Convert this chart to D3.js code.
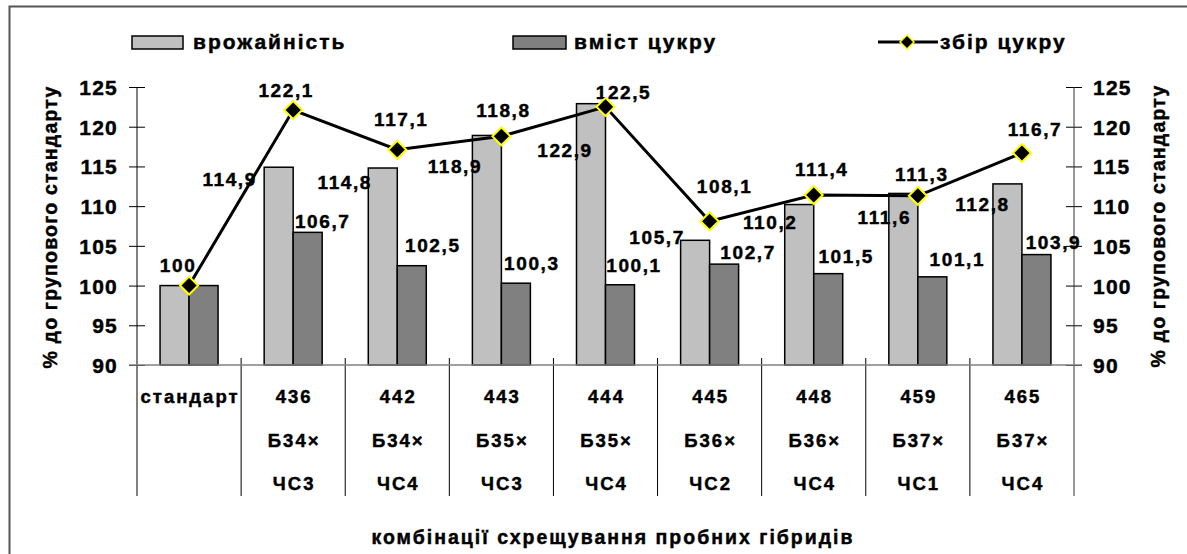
<!DOCTYPE html>
<html>
<head>
<meta charset="utf-8">
<script src="https://cdn.jsdelivr.net/npm/d3@7"></script>
<style>
  body { margin: 0; background: #fff; }
  svg { display: block; font-family: "Liberation Sans", Arial, sans-serif; font-weight: bold; }
  svg text { stroke: #000; stroke-width: 0.45px; }
</style>
</head>
<body>
<div id="chart"></div>
<script>
// data
var categories = ["стандарт", "436", "442", "443", "444", "445", "448", "459", "465"];
var crossFemale = ["", "Б34×", "Б34×", "Б35×", "Б35×", "Б36×", "Б36×", "Б37×", "Б37×"];
var crossMale = ["", "ЧС3", "ЧС4", "ЧС3", "ЧС4", "ЧС2", "ЧС4", "ЧС1", "ЧС4"];
var yieldPct = [100, 114.9, 114.8, 118.9, 122.9, 105.7, 110.2, 111.6, 112.8];
var sugarContent = [100, 106.7, 102.5, 100.3, 100.1, 102.7, 101.5, 101.1, 103.9];
var sugarYield = [100, 122.1, 117.1, 118.8, 122.5, 108.1, 111.4, 111.3, 116.7];
var yTicks = [90, 95, 100, 105, 110, 115, 120, 125];
var seriesNames = ["врожайність", "вміст цукру", "збір цукру"];

// label nudges (px), the labels sit where they were dragged in the original
var yieldNudge = [null, [-49, 12], [-38, 14], [-32, 31], [-26, 46], [-38, -3], [-29, 18], [-19, 24], [-25, 20]];
var sugarNudge = [null, [15, -11], [21, -21], [16, -20], [14, -20], [24, -12], [18, -17], [25, -18], [17, -12]];
var lineNudge = [[-11, -20], [-7, -20], [4, -31], [2, -26], [18, -15], [15, -35], [8, -26], [4, -22], [13, -24]];

var width = 1187, height = 554;
var margin = {top: 87, left: 137, right: 113, bottom: 189};
var plotRight = width - margin.right,
    plotBottom = height - margin.bottom;

var lightFill = "#c0c0c0", darkFill = "#808080";

var svg = d3.select("#chart").append("svg")
  .attr("width", width)
  .attr("height", height);

// outer frame (top and left edges only show)
svg.append("path")
  .attr("d", "M9.5," + height + "V6.5H" + width)
  .attr("fill", "none")
  .attr("stroke", "#555")
  .attr("stroke-width", 2);

var x0 = d3.scaleBand()
  .domain(categories)
  .range([margin.left, plotRight])
  .padding(0);

var x1 = d3.scaleBand()
  .domain(["yield", "sugar"])
  .range([-29, 29]);

var y = d3.scaleLinear()
  .domain([90, 125])
  .range([plotBottom, margin.top]);

function cx(i) { return x0(categories[i]) + x0.bandwidth() / 2; }
function fmt(v) { return String(v).replace(".", ","); }

// axes
var leftAxis = svg.append("g")
  .attr("transform", "translate(" + margin.left + ",0)")
  .call(d3.axisLeft(y).tickValues(yTicks).tickSize(8).tickPadding(12));
var rightAxis = svg.append("g")
  .attr("transform", "translate(" + plotRight + ",0)")
  .call(d3.axisRight(y).tickValues(yTicks).tickSize(8).tickPadding(12));

[leftAxis, rightAxis].forEach(function(ax) {
  ax.select(".domain").remove();
  ax.selectAll(".tick line")
    .attr("x1", -8).attr("x2", 8)
    .attr("stroke", "#000");
  ax.selectAll(".tick text")
    .attr("font-size", 21)
    .attr("font-family", "Liberation Sans, Arial, sans-serif")
    .attr("font-weight", "bold")
    .attr("letter-spacing", 1.2)
    .attr("fill", "#000")
    .attr("dy", "0.36em");
});
leftAxis.selectAll(".tick text").attr("x", -19);
rightAxis.selectAll(".tick text").attr("x", 19);

// category separators including both axes lines
var sepX = categories.map(function(c) { return x0(c); }).concat([plotRight]);
svg.append("g").selectAll("line")
  .data(sepX)
  .enter().append("line")
    .attr("x1", function(d) { return d; })
    .attr("x2", function(d) { return d; })
    .attr("y1", function(d, i) { return (i === 0 || i === sepX.length - 1) ? margin.top : plotBottom - 7; })
    .attr("y2", 496)
    .attr("stroke", function(d, i) { return i === sepX.length - 1 ? "#333" : "#000"; })
    .attr("stroke-width", 1);

// bars
var barG = svg.append("g");
categories.forEach(function(c, i) {
  var base = cx(i);
  [["yield", yieldPct[i], lightFill], ["sugar", sugarContent[i], darkFill]].forEach(function(s) {
    barG.append("rect")
      .attr("x", base + x1(s[0]))
      .attr("y", y(s[1]))
      .attr("width", x1.bandwidth())
      .attr("height", plotBottom - y(s[1]))
      .attr("fill", s[2])
      .attr("stroke", "#000")
      .attr("stroke-width", 1.5);
  });
});

// x axis line (gray)
svg.append("line")
  .attr("x1", margin.left - 8).attr("x2", plotRight + 8)
  .attr("y1", plotBottom).attr("y2", plotBottom)
  .attr("stroke", "#808080")
  .attr("stroke-width", 1.5);

// bar labels
var labelG = svg.append("g")
  .attr("font-size", 19)
  .attr("letter-spacing", 1.6)
  .attr("text-anchor", "middle");

function addLabels(values, nudge, anchorX) {
  values.forEach(function(v, i) {
    if (!nudge[i]) return;
    labelG.append("text")
      .attr("x", anchorX(i) + nudge[i][0])
      .attr("y", y(v) + nudge[i][1])
      .attr("dy", "0.36em")
      .text(fmt(v));
  });
}
addLabels(yieldPct, yieldNudge, function(i) { return cx(i) + x1("yield") + x1.bandwidth() / 2; });
addLabels(sugarContent, sugarNudge, function(i) { return cx(i) + x1("sugar") + x1.bandwidth() / 2; });

// sugar yield line
var line = d3.line()
  .x(function(d, i) { return cx(i); })
  .y(function(d) { return y(d); });

svg.append("path")
  .datum(sugarYield)
  .attr("d", line)
  .attr("fill", "none")
  .attr("stroke", "#000")
  .attr("stroke-width", 3);

var diamond = "M0,-9L9,0L0,9L-9,0Z";
svg.append("g").selectAll("path")
  .data(sugarYield)
  .enter().append("path")
    .attr("d", diamond)
    .attr("transform", function(d, i) { return "translate(" + cx(i) + "," + y(d) + ")"; })
    .attr("fill", "#000")
    .attr("stroke", "#ffff00")
    .attr("stroke-width", 2);

addLabels(sugarYield, lineNudge, cx);

// category labels, three rows
var catG = svg.append("g")
  .attr("font-size", 18.5)
  .attr("letter-spacing", 2)
  .attr("text-anchor", "middle");
[[categories, 403], [crossFemale, 447], [crossMale, 490]].forEach(function(row) {
  row[0].forEach(function(t, i) {
    if (!t) return;
    catG.append("text")
      .attr("x", cx(i) + 1)
      .attr("y", row[1])
      .text(t);
  });
});

// axis titles
var yTitle = "% до групового стандарту";
svg.append("text")
  .attr("transform", "translate(57,227) rotate(-90)")
  .attr("text-anchor", "middle")
  .attr("font-size", 19.5)
  .attr("letter-spacing", 1.2)
  .text(yTitle);
svg.append("text")
  .attr("transform", "translate(1165,226) rotate(-90)")
  .attr("text-anchor", "middle")
  .attr("font-size", 19.5)
  .attr("letter-spacing", 1.2)
  .text(yTitle);

svg.append("text")
  .attr("x", 613)
  .attr("y", 544)
  .attr("text-anchor", "middle")
  .attr("font-size", 19.5)
  .attr("letter-spacing", 2)
  .text("комбінації схрещування пробних гібридів");

// legend
var legend = svg.append("g")
  .attr("font-size", 21)
  .attr("letter-spacing", 2);

legend.append("rect")
  .attr("x", 132).attr("y", 36).attr("width", 51).attr("height", 13)
  .attr("fill", lightFill).attr("stroke", "#000").attr("stroke-width", 1.5);
legend.append("text").attr("x", 193).attr("y", 49).text(seriesNames[0]);

legend.append("rect")
  .attr("x", 513).attr("y", 36).attr("width", 53).attr("height", 13)
  .attr("fill", darkFill).attr("stroke", "#000").attr("stroke-width", 1.5);
legend.append("text").attr("x", 574).attr("y", 49).text(seriesNames[1]);

legend.append("line")
  .attr("x1", 878).attr("x2", 938).attr("y1", 42).attr("y2", 42)
  .attr("stroke", "#000").attr("stroke-width", 3);
legend.append("path")
  .attr("d", "M0,-7L7,0L0,7L-7,0Z")
  .attr("transform", "translate(907,42)")
  .attr("fill", "#000").attr("stroke", "#ffff00").attr("stroke-width", 1.5);
legend.append("text").attr("x", 940).attr("y", 49).text(seriesNames[2]);
</script>
</body>
</html>
